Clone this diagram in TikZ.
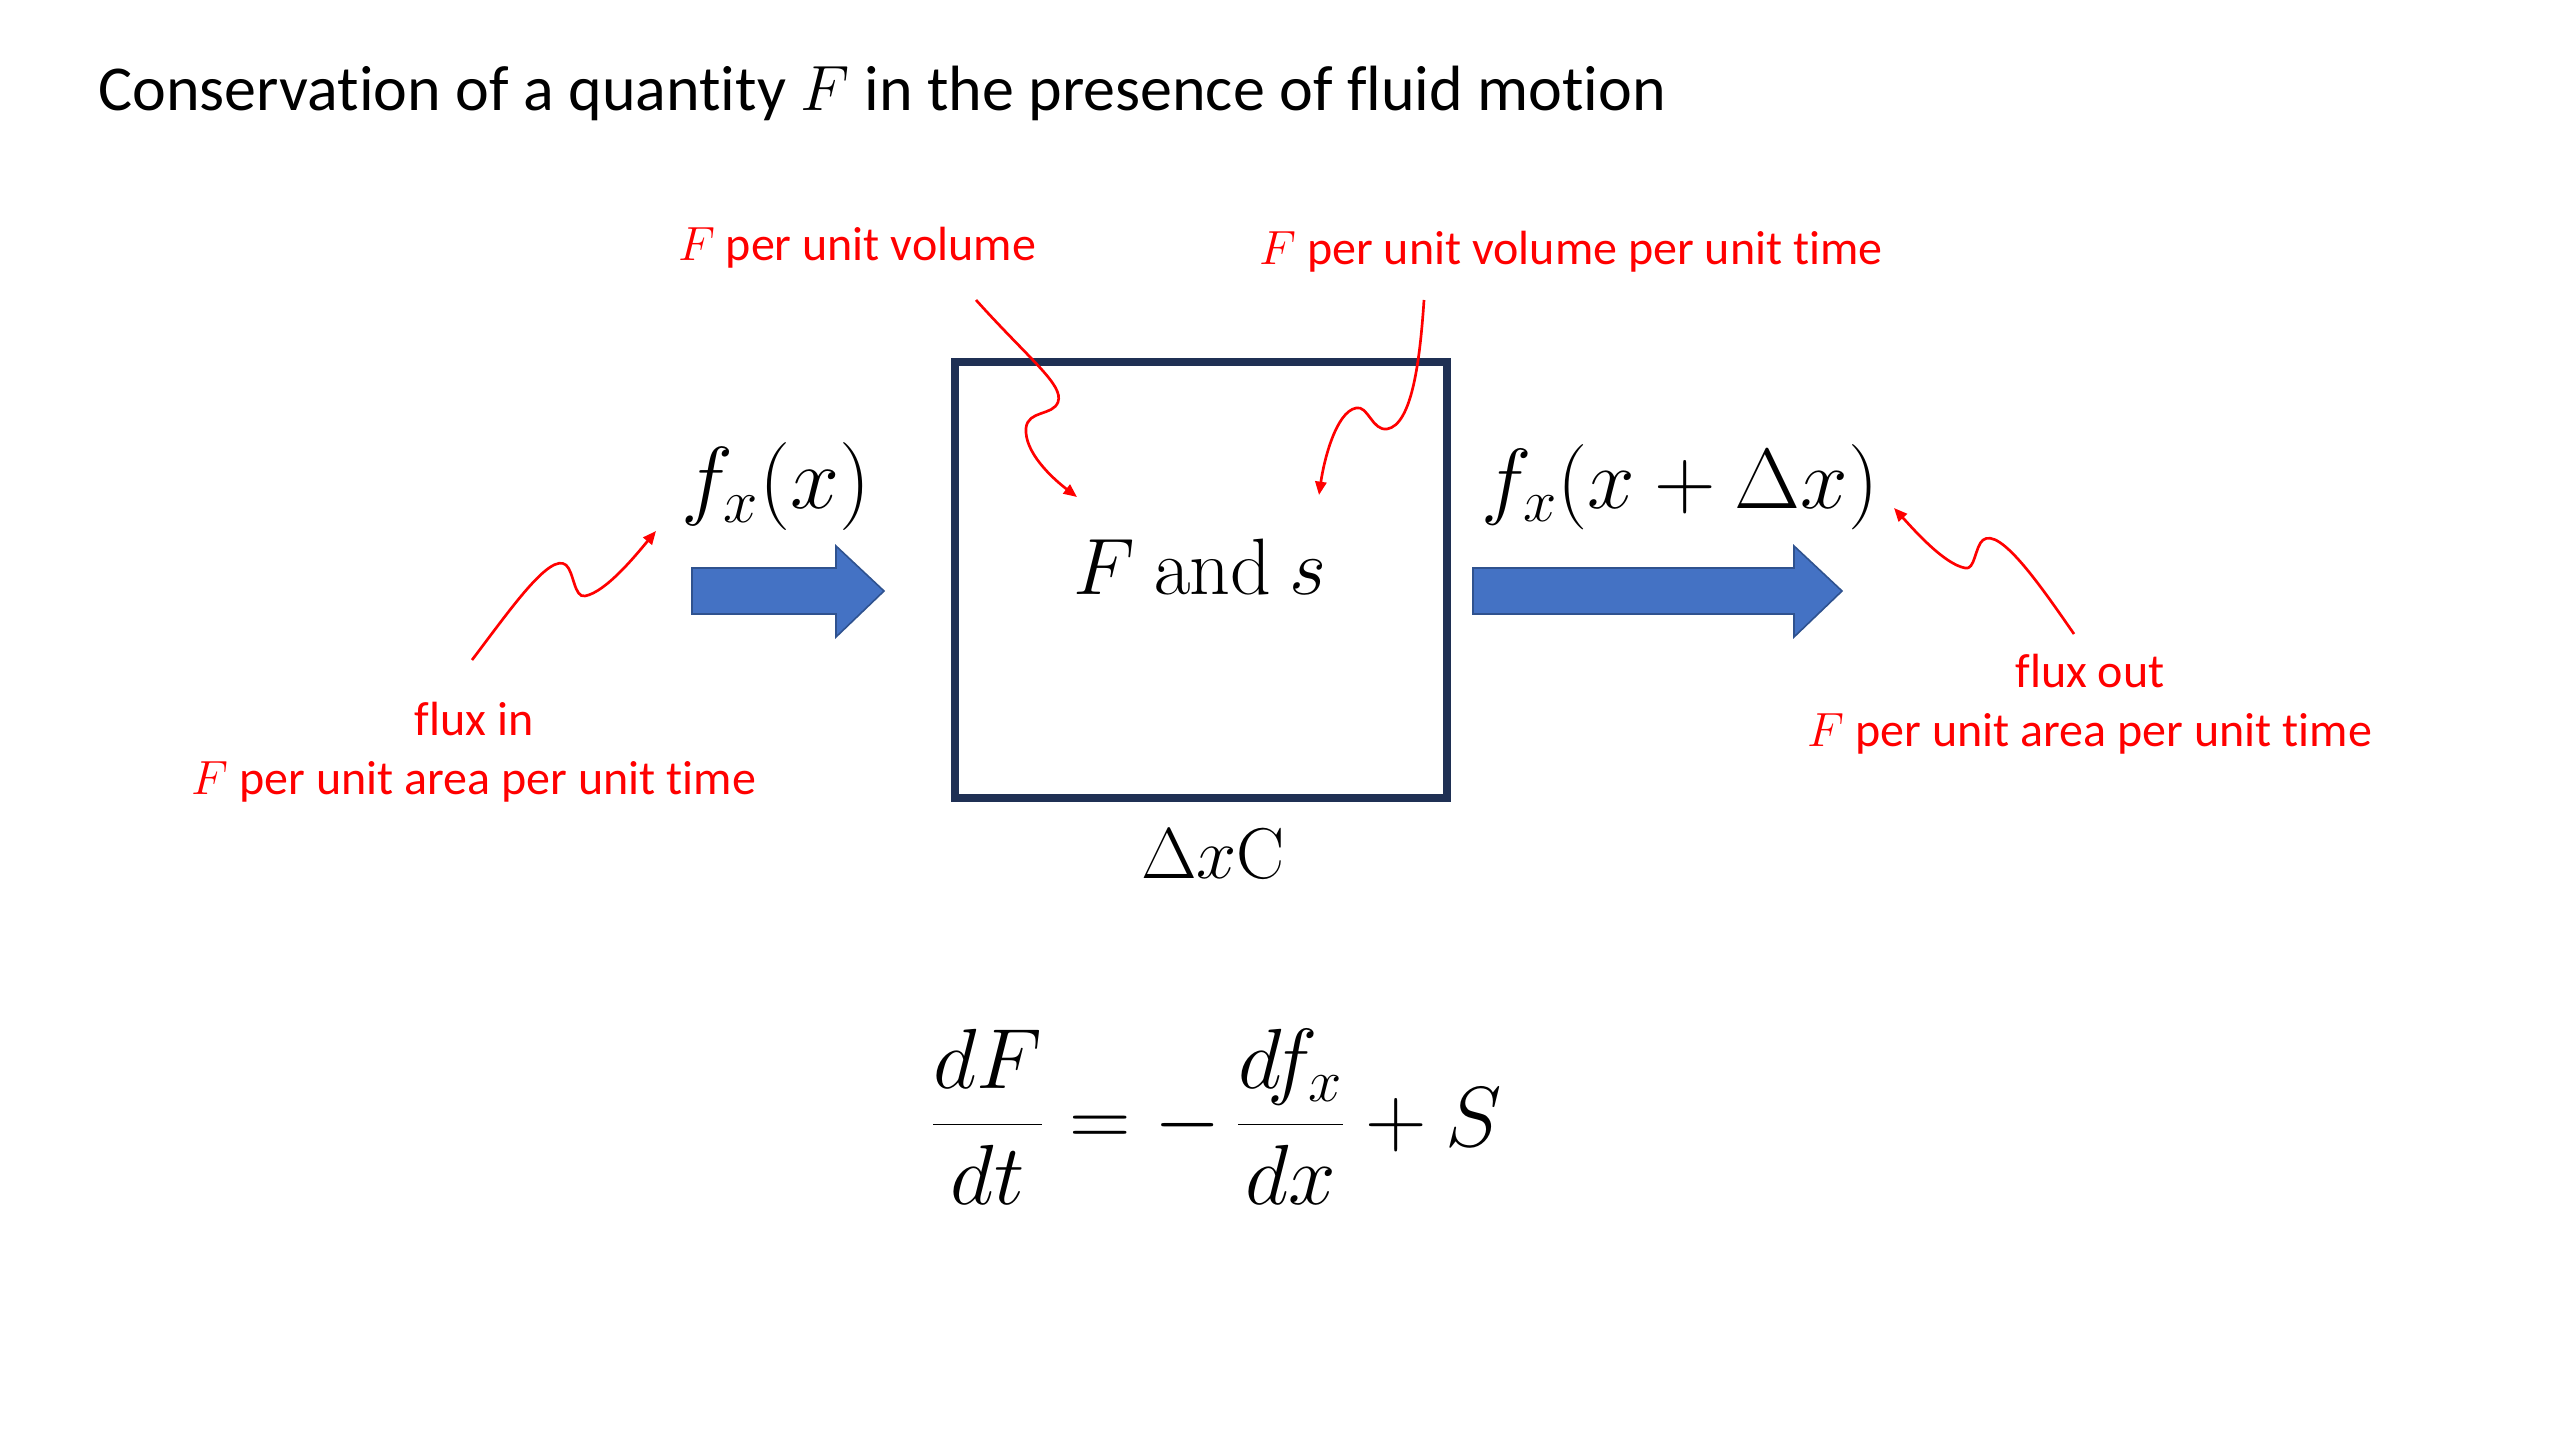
\RequirePackage{fix-cm}
\documentclass[tikz,border=0pt]{standalone}
\usepackage[no-math]{fontspec}
\setmainfont{Carlito}[Ligatures=NoCommon]
\usetikzlibrary{arrows.meta}
\definecolor{navy}{RGB}{31,48,84}
\definecolor{flowblue}{RGB}{68,114,196}
\definecolor{flowedge}{RGB}{47,82,143}
\definecolor{lblred}{RGB}{255,0,0}
\tikzset{
  redlbl/.style={text=lblred, inner sep=0pt, font=\fontsize{18}{21.6}\selectfont},
  squig/.style={draw=lblred, line width=1pt, -{Triangle[length=5pt,width=4.2pt]}},
  mathlbl/.style={inner sep=0pt, font=\fontsize{#1}{#1}\selectfont},
  flowarrow/.style={fill=flowblue, draw=flowedge, line width=0.6pt, line join=miter},
  cvbox/.style={draw=navy, line width=3pt, inner sep=0pt, minimum width=184.5pt, minimum height=163.5pt}
}
\begin{document}
\begin{tikzpicture}[x=0.375pt, y=-0.375pt]
\useasboundingbox[fill=white] (0,0) rectangle (2560,1440);

% title
\node[anchor=base west, inner sep=0pt, font=\fontsize{24}{28.8}\selectfont] (title) at (98,111)
  {Conservation of a quantity $F$ in the presence of fluid motion};

% control volume
\node[cvbox] (box) at (1201,580) {};
\node[mathlbl=30, anchor=base] (fs) at (1200,594) {$F\ \mathrm{and}\ s$};
\node[mathlbl=27, anchor=base] (dxc) at (1213,878) {$\Delta x\mathrm{C}$};

% flux labels
\node[mathlbl=33] (fin) at (776,487) {$f_x(x)$};
\node[mathlbl=32] (fout) at (1680,487) {$f_x(x+\Delta x)$};

% blue arrows
\path[flowarrow] (692,568) -- (836,568) -- (836,546) -- (884,591) -- (836,637) -- (836,614) -- (692,614) -- cycle;
\path[flowarrow] (1473,568) -- (1794,568) -- (1794,546) -- (1842,591) -- (1794,637) -- (1794,614) -- (1473,614) -- cycle;

% red labels
\node[redlbl, anchor=base] (lvol) at (857,261) {$F$ per unit volume};
\node[redlbl, anchor=base] (lsrc) at (1571,265) {$F$ per unit volume per unit time};
\node[redlbl, anchor=base] (linA) at (474,735) {flux in};
\node[redlbl, anchor=base] (linB) at (474,794) {$F$ per unit area per unit time};
\node[redlbl, anchor=base] (loutA) at (2090,687) {flux out};
\node[redlbl, anchor=base] (loutB) at (2090,746) {$F$ per unit area per unit time};

% connector end points
\coordinate (c1s) at (976,300);
\coordinate (c1e) at (1077,497);
\coordinate (c2s) at (1424,300);
\coordinate (c2e) at (1319,495);
\coordinate (c3s) at (472,660);
\coordinate (c3e) at (656,531);
\coordinate (c4s) at (2074,634);
\coordinate (c4e) at (1894,508);

% squiggly connectors
\draw[squig] (c1s) .. controls (1030,360) and (1064,385) .. (1058,402)
  .. controls (1053,416) and (1028,410) .. (1026,428)
  .. controls (1024,452) and (1052,478) .. (c1e);
\draw[squig] (c2s) .. controls (1420,360) and (1412,425) .. (1387,429)
  .. controls (1372,431) and (1368,405) .. (1356,408)
  .. controls (1336,412) and (1324,460) .. (c2e);
\draw[squig] (c3s) .. controls (510,610) and (550,552) .. (566,565)
  .. controls (574,572) and (574,598) .. (585,596)
  .. controls (606,592) and (636,555) .. (c3e);
\draw[squig] (c4s) .. controls (2040,585) and (2000,527) .. (1983,540)
  .. controls (1975,546) and (1975,571) .. (1965,568)
  .. controls (1944,564) and (1914,530) .. (c4e);

% equation
\node[mathlbl=32] (eq) at (1216,1117) {$\displaystyle \frac{dF}{dt} = -\,\frac{d f_x}{dx} + S$};
\end{tikzpicture}
\end{document}
